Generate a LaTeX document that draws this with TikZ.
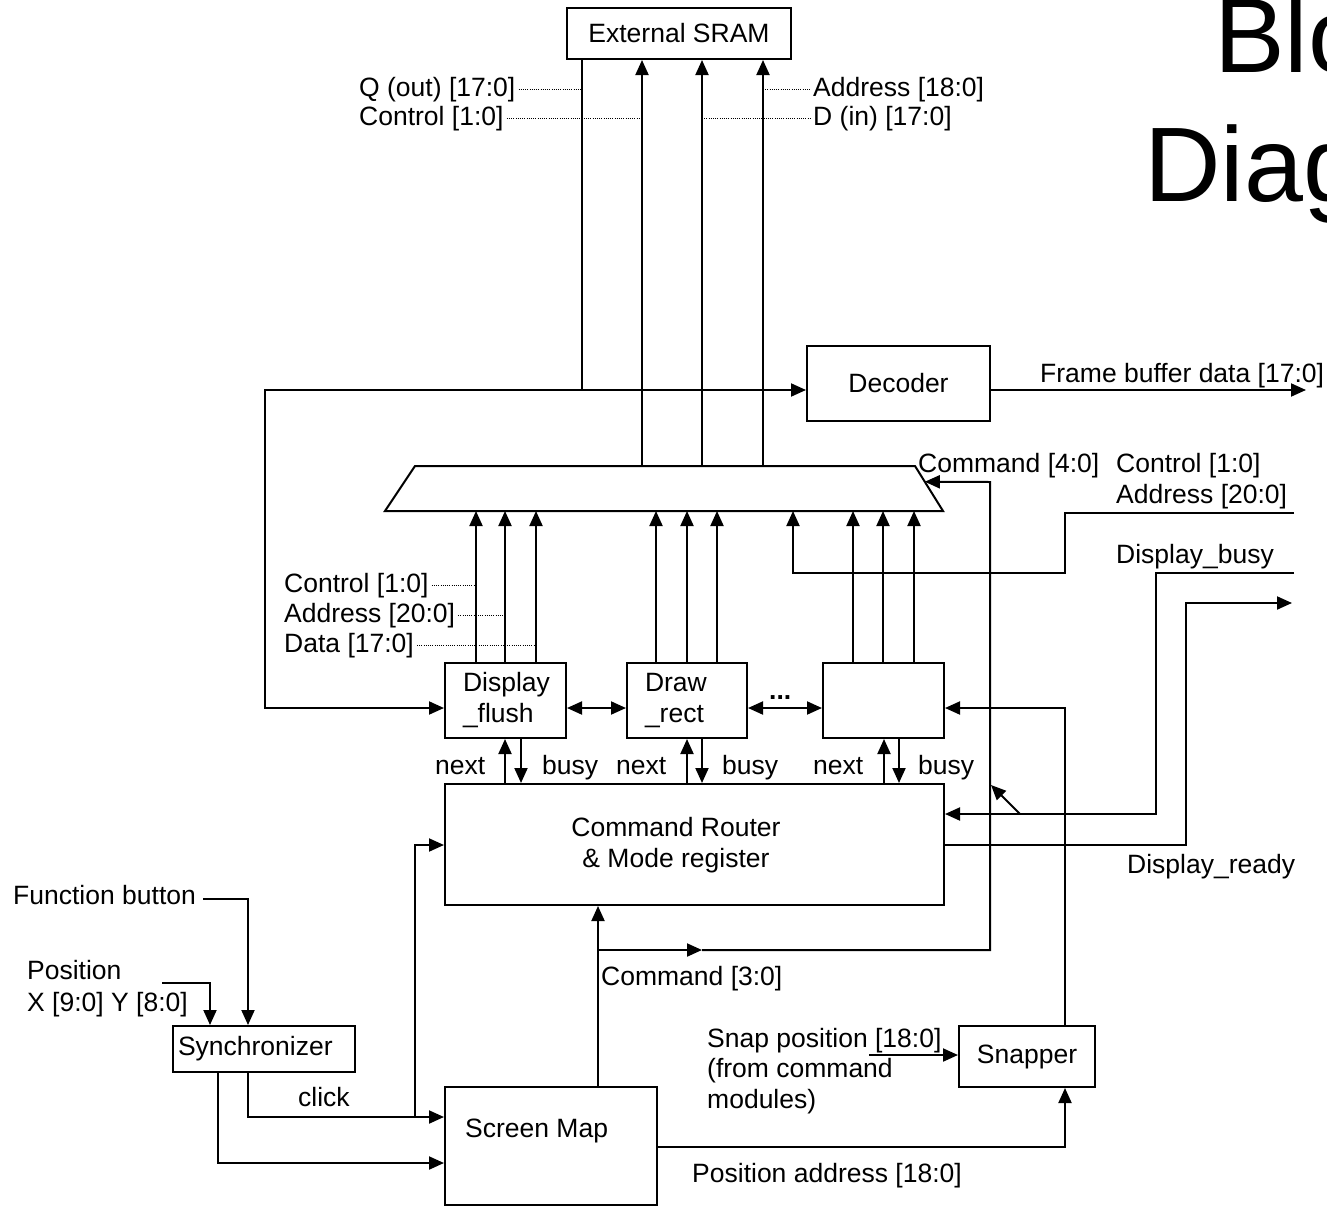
\documentclass[tikz,border=0pt]{standalone}
\usepackage{fontspec}
\setmainfont{Liberation Sans}
\usetikzlibrary{arrows.meta,calc}

\begin{document}
\begin{tikzpicture}[x=1pt,y=-1pt,
  every node/.style={font=\fontsize{26.5}{31}\selectfont},
  wire/.style={line width=2pt},
  arr/.style={wire,-{Triangle[length=15pt,width=13pt]}},
  dbl/.style={wire,{Triangle[length=15pt,width=13pt]}-{Triangle[length=15pt,width=13pt]}},
  tap/.style={line width=0.9pt,dash pattern=on 1pt off 1.2pt},
  box/.style={draw,line width=2pt,inner sep=0pt},
  modbox/.style={box,align=left,inner xsep=18pt,minimum height=75pt},
  lbl/.style={anchor=base west,inner sep=0pt},
  title/.style={lbl,font=\fontsize{106}{128}\selectfont},
]
\useasboundingbox (0,0) rectangle (1327,1207);
\clip (0,0) rectangle (1327,1207);

% heading
\node[title] (titleA) at (1214,73) {Block};
\node[title] (titleB) at (1144,201) {Diagram};

% blocks
\node[box,minimum width=224pt,minimum height=51pt] (sram) at (679,33.5) {External SRAM};
\node[box,minimum width=183pt,minimum height=75pt] (dec) at (898.5,383.5) {Decoder};
% multiplexer outline
\coordinate (muxTL) at (415,466);
\coordinate (muxTR) at (915,466);
\coordinate (muxBR) at (943,511);
\coordinate (muxBL) at (385,511);
\draw[wire,line join=miter] (muxTL) -- (muxTR) -- (muxBR) -- (muxBL) -- cycle;
\node[modbox,text width=85pt] (dflush) at (505.5,700.5) {Display\\\_flush};
\node[modbox,text width=84pt] (drect) at (687,700.5) {Draw\\\_rect};
\node[box,minimum width=121pt,minimum height=75pt] (mod3) at (883.5,700.5) {};
\node[box,minimum width=499pt,minimum height=121pt] (router) at (694.5,844.5) {};
\node[anchor=base,inner sep=0pt] (routerA) at (676,836) {Command Router};
\node[anchor=base,inner sep=0pt] (routerB) at (676,867) {\& Mode register};
\node[box,align=left,text width=172pt,inner xsep=5pt,minimum height=46pt] (sync) at (264,1049) {Synchronizer};
\node[box,minimum width=212pt,minimum height=118pt] (smap) at (551,1146) {};
\node[lbl] (smapText) at (465,1137) {Screen Map};
\node[box,minimum width=136pt,minimum height=61pt] (snap) at (1027,1056.5) {Snapper};

% free ends and junctions
\coordinate (qj) at (582,390);
\coordinate (fbOut) at (1306,390);
\coordinate (caIn) at (1294,513);
\coordinate (dbIn) at (1294,573);
\coordinate (drOut) at (1292,603);
\coordinate (cmdj) at (598,950);
\coordinate (cmdMid) at (702,950);
\coordinate (muxCmd) at ($(muxTR)!0.35!(muxBR)$);
\coordinate (dgA) at (1020,814);
\coordinate (dgB) at (991,785);
\coordinate (snapIn) at (869,1055);
\coordinate (fbIn) at (203,899);
\coordinate (posIn) at (162,983);
\coordinate (clickj) at (415,1117);

% SRAM bus
\draw[wire] (sram.south -| qj) -- (qj);
\draw[arr] (qj) -- (dec.west |- qj);
\draw[arr] (qj) -| (265,708) -- (dflush.west |- 265,708);
\draw[arr] (dec.east |- qj) -- (fbOut);
\foreach \x in {642,702,763}
  \draw[arr] (muxTL -| \x,0) -- (sram.south -| \x,0);

% module outputs into the multiplexer
\foreach \x in {476,505,536}
  \draw[arr] (dflush.north -| \x,0) -- (muxBL -| \x,0);
\foreach \x in {656,687,717}
  \draw[arr] (drect.north -| \x,0) -- (muxBL -| \x,0);
\foreach \x in {853,883,914}
  \draw[arr] (mod3.north -| \x,0) -- (muxBL -| \x,0);
\draw[arr] (caIn) -- (1065,513) |- (793,573) -- (muxBL -| 793,0);

% chain between command modules
\draw[dbl] (dflush.east |- 0,708) -- (drect.west |- 0,708);
\draw[dbl] (drect.east |- 0,708) -- (mod3.west |- 0,708);
\node[lbl,font=\fontsize{26.5}{31}\selectfont\bfseries] (dots) at (769,699) {...};

% next / busy handshakes
\foreach \u/\d in {505/521,687/702,884/899}{
  \draw[arr] (router.north -| \u,0) -- (dflush.south -| \u,0);
  \draw[arr] (dflush.south -| \d,0) -- (router.north -| \d,0);
}

% display handshake signals
\draw[arr] (dbIn) -- (1156,573) |- (router.east |- 0,814);
\draw[arr] (router.east |- 0,845) -| (1186,603) -- (drOut);
\draw[arr] (dgA) -- (dgB);

% command path
\draw[arr] (smap.north -| cmdj) -- (router.south -| cmdj);
\draw[arr] (cmdj) -- (cmdMid);
\draw[arr] (cmdMid) -| (990,482) -- (muxCmd);

% snapper
\draw[arr] (snap.north -| 1065,0) |- (mod3.east |- 0,708);
\draw[arr] (smap.east |- 0,1147) -| (snap.south -| 1065,0);
\draw[arr] (snapIn) -- (snap.west |- snapIn);

% inputs and synchronizer
\draw[arr] (fbIn) -| (sync.north -| 248,0);
\draw[arr] (posIn) -| (sync.north -| 210,0);
\draw[arr] (sync.south -| 248,0) |- (smap.west |- clickj);
\draw[arr] (sync.south -| 218,0) |- (smap.west |- 0,1163);
\draw[arr] (clickj) |- (router.west |- 0,845);

% signal names
\node[lbl] (lQ) at (359,96) {Q (out) [17:0]};
\node[lbl] (lCtlS) at (359,125) {Control [1:0]};
\node[lbl] (lAdS) at (813,96) {Address [18:0]};
\node[lbl] (lDS) at (813,125) {D (in) [17:0]};
\draw[tap] ([xshift=3pt]lQ.east) -- (582,0 |- lQ.east);
\draw[tap] ([xshift=3pt]lCtlS.east) -- (642,0 |- lCtlS.east);
\draw[tap] (763,0 |- lAdS.west) -- ([xshift=-3pt]lAdS.west);
\draw[tap] (702,0 |- lDS.west) -- ([xshift=-3pt]lDS.west);

\node[lbl] (lFb) at (1040,382) {Frame buffer data [17:0]};
\node[lbl] (lCmd4) at (918,472) {Command [4:0]};
\node[lbl] (lCtlR) at (1116,472) {Control [1:0]};
\node[lbl] (lAdR) at (1116,503) {Address [20:0]};
\node[lbl] (lBusy) at (1116,563) {Display\_busy};
\node[lbl] (lReady) at (1127,873) {Display\_ready};

\node[lbl] (lCtlM) at (284,592) {Control [1:0]};
\node[lbl] (lAdM) at (284,622) {Address [20:0]};
\node[lbl] (lData) at (284,652) {Data [17:0]};
\draw[tap] ([xshift=3pt]lCtlM.east) -- (476,0 |- lCtlM.east);
\draw[tap] ([xshift=3pt]lAdM.east) -- (505,0 |- lAdM.east);
\draw[tap] ([xshift=3pt]lData.east) -- (536,0 |- lData.east);

\node[lbl] (n1) at (435,774) {next};
\node[lbl] (b1) at (542,774) {busy};
\node[lbl] (n2) at (616,774) {next};
\node[lbl] (b2) at (722,774) {busy};
\node[lbl] (n3) at (813,774) {next};
\node[lbl] (b3) at (918,774) {busy};

\node[lbl] (lFunc) at (13,904) {Function button};
\node[lbl] (lPos) at (27,979) {Position};
\node[lbl] (lXY) at (27,1011) {X [9:0] Y [8:0]};
\node[lbl] (lClick) at (298,1106) {click};
\node[lbl] (lCmd3) at (601,985) {Command [3:0]};
\node[lbl] (lSnapA) at (707,1047) {Snap position [18:0]};
\node[lbl] (lSnapB) at (707,1077) {(from command};
\node[lbl] (lSnapC) at (707,1108) {modules)};
\node[lbl] (lPosAd) at (692,1182) {Position address [18:0]};
\end{tikzpicture}
\end{document}
